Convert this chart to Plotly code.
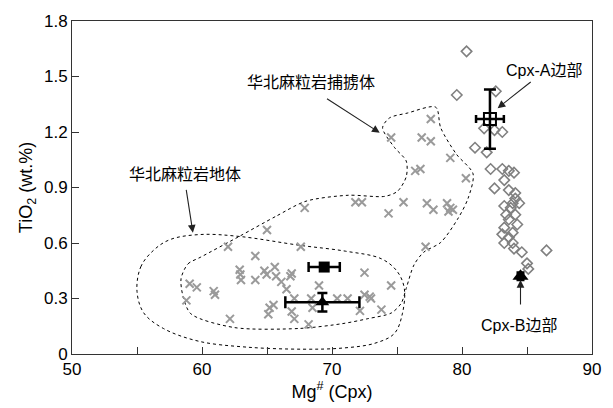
import plotly.graph_objects as go

# gray crosses: granulite terrain / xenolith Cpx
cross_x = [67.9, 71.8, 72.3, 65.0, 62.0, 67.6, 64.1, 62.9, 62.95, 63.0, 64.1, 64.8, 64.97, 65.6, 65.7,
           66.1, 66.9, 66.8, 66.5, 69.0, 68.4, 67.1, 68.5, 65.2, 65.5, 65.1, 66.9, 67.1, 68.2, 62.15,
           59.05, 59.6, 60.9, 61.0, 58.8, 70.4, 71.2, 72.5, 72.5, 72.9, 73.8, 72.15, 73.0,
           77.6, 74.55, 76.9, 77.6, 79.1, 76.4, 76.8, 80.3, 75.5, 74.35, 77.3, 77.8, 78.85, 79.1,
           79.3, 78.96, 77.2, 74.55]
cross_y = [0.79, 0.82, 0.82, 0.67, 0.58, 0.58, 0.53, 0.455, 0.43, 0.40, 0.40, 0.45, 0.43, 0.47, 0.42,
           0.39, 0.435, 0.42, 0.35, 0.37, 0.30, 0.30, 0.25, 0.25, 0.265, 0.215, 0.23, 0.19, 0.16, 0.19,
           0.38, 0.36, 0.34, 0.32, 0.29, 0.30, 0.30, 0.44, 0.32, 0.31, 0.24, 0.233, 0.30,
           1.27, 1.17, 1.17, 1.15, 1.06, 0.99, 1.00, 0.95, 0.82, 0.76, 0.815, 0.78, 0.815, 0.79,
           0.78, 0.77, 0.58, 0.37]

# open diamonds: this study Cpx
dia_x = [80.35, 79.6, 82.6, 81.7, 82.5, 83.1, 81.0, 81.9, 82.2, 83.1, 83.6, 84.0, 83.25, 82.5, 83.6,
         84.1, 84.1, 83.9, 83.25, 83.75, 84.4, 83.4, 84.1, 83.6, 84.25, 83.25, 83.1, 83.9, 83.6,
         83.25, 83.9, 84.0, 84.6, 86.5, 85.0, 85.1]
dia_y = [1.636, 1.40, 1.42, 1.22, 1.21, 1.20, 1.115, 1.09, 1.0, 1.0, 0.99, 0.98, 0.94, 0.895, 0.886,
         0.87, 0.84, 0.815, 0.80, 0.79, 0.815, 0.753, 0.753, 0.727, 0.70, 0.683, 0.647, 0.656, 0.63,
         0.60, 0.60, 0.57, 0.55, 0.56, 0.49, 0.46]

# field outlines
terrain_x = [55.0, 55.29, 56.28, 57.56, 59.91, 62.93, 67.47, 71.02, 73.82, 75.03, 75.56, 75.41, 74.80,
             73.29, 70.79, 67.77, 63.46, 59.75, 57.03, 55.52, 55.0]
terrain_y = [0.339, 0.471, 0.561, 0.619, 0.646, 0.635, 0.588, 0.556, 0.514, 0.445, 0.355, 0.217, 0.111,
             0.058, 0.032, 0.026, 0.037, 0.069, 0.138, 0.222, 0.339]
xeno_x = [58.39, 58.92, 59.91, 62.85, 65.73, 68.0, 71.25, 74.05, 75.03, 75.71, 75.71, 74.80, 73.89,
          74.42, 75.78, 77.98, 78.36, 79.57, 80.85, 80.47, 79.72, 78.36, 77.07, 76.31, 75.71, 75.33,
          74.57, 72.76, 70.79, 67.47, 62.48, 59.15, 58.54, 58.39]
xeno_y = [0.408, 0.487, 0.524, 0.635, 0.746, 0.826, 0.858, 0.852, 0.879, 0.958, 1.043, 1.117, 1.223,
          1.276, 1.302, 1.334, 1.223, 1.080, 0.974, 0.842, 0.736, 0.603, 0.551, 0.482, 0.355, 0.275,
          0.222, 0.191, 0.164, 0.138, 0.143, 0.217, 0.312, 0.408]

# mean values with error bars
sq_x, sq_y, sq_ex = [69.4], [0.47], [1.2]
tri_x, tri_y, tri_ex, tri_ey = [69.26], [0.28], [2.85], [0.05]
cpxA_x, cpxA_y, cpxA_ex, cpxA_ey = [82.15], [1.27], [1.07], [0.16]
cpxB_x, cpxB_y, cpxB_ex, cpxB_ey = [84.5], [0.42], [0.2], [0.02]

x_ticks = [50, 60, 70, 80, 90]
y_ticks = [0, 0.3, 0.6, 0.9, 1.2, 1.5, 1.8]
y_labels = ["0", "0.3", "0.6", "0.9", "1.2", "1.5", "1.8"]

FONT = "Liberation Sans, Arial, Noto Sans CJK SC, sans-serif"

fig = go.Figure()
fig.add_trace(go.Scatter(x=terrain_x, y=terrain_y, mode="lines", line=dict(color="black", width=1, dash="dot", shape="spline", smoothing=1.0), hoverinfo="skip"))
fig.add_trace(go.Scatter(x=xeno_x, y=xeno_y, mode="lines", line=dict(color="black", width=1, dash="dot", shape="spline", smoothing=0.8), hoverinfo="skip"))
fig.add_trace(go.Scatter(x=cross_x, y=cross_y, mode="markers",
                         marker=dict(symbol="x-thin", size=8, line=dict(color="#9a9a9a", width=2))))
fig.add_trace(go.Scatter(x=dia_x, y=dia_y, mode="markers",
                         marker=dict(symbol="diamond-open", size=8, color="#808080", line=dict(color="#808080", width=1.6))))
eb = dict(color="black", thickness=2.5)
fig.add_trace(go.Scatter(x=sq_x, y=sq_y, mode="markers",
                         marker=dict(symbol="square", size=11, color="black"),
                         error_x=dict(type="data", array=sq_ex, width=5, **eb)))
fig.add_trace(go.Scatter(x=tri_x, y=tri_y, mode="markers",
                         marker=dict(symbol="triangle-up", size=12, color="black"),
                         error_x=dict(type="data", array=tri_ex, width=6, **eb),
                         error_y=dict(type="data", array=tri_ey, width=5, **eb)))
fig.add_trace(go.Scatter(x=cpxA_x, y=cpxA_y, mode="markers",
                         marker=dict(symbol="square-open", size=12, color="black", line=dict(width=2)),
                         error_x=dict(type="data", array=cpxA_ex, width=4, **eb),
                         error_y=dict(type="data", array=cpxA_ey, width=6, **eb)))
fig.add_trace(go.Scatter(x=cpxB_x, y=cpxB_y, mode="markers",
                         marker=dict(symbol="triangle-up", size=14, color="black"),
                         error_x=dict(type="data", array=cpxB_ex, width=3, **eb),
                         error_y=dict(type="data", array=cpxB_ey, width=4, **eb)))

ann_font = dict(family=FONT, size=16, color="black")
anns = [
    dict(text="华北麻粒岩捕掳体", x=68.37, y=1.466, ax=69.5, ay=1.385, tipx=73.67, tipy=1.196),
    dict(text="华北麻粒岩地体", x=58.7, y=0.969, ax=58.77, ay=0.895, tipx=59.3, tipy=0.656),
    dict(text="Cpx-A边部", x=86.3, y=1.535, ax=85.4, ay=1.477, tipx=82.74, tipy=1.329),
    dict(text="Cpx-B边部", x=84.4, y=0.154, ax=84.5, ay=0.26, tipx=84.5, tipy=0.40),
]
for a in anns:
    fig.add_annotation(x=a["x"], y=a["y"], text=a["text"], showarrow=False, font=ann_font)
    fig.add_annotation(x=a["tipx"], y=a["tipy"], ax=a["ax"], ay=a["ay"], axref="x", ayref="y",
                       text="", showarrow=True, arrowhead=2, arrowsize=1.4, arrowwidth=1.1, arrowcolor="#222")

axis_common = dict(showline=True, linecolor="#333", linewidth=1, mirror=True, showgrid=False, zeroline=False,
                   ticks="inside", ticklen=7, tickcolor="#333", tickfont=dict(family=FONT, size=17, color="black"))
fig.update_xaxes(range=[50, 90], tickvals=x_ticks, ticktext=[str(v) for v in x_ticks],
                 minor=dict(tickvals=[55, 65, 75, 85], ticks="inside", ticklen=7, tickcolor="#333"),
                 title=dict(text="Mg<sup>#</sup> (Cpx)", font=dict(family=FONT, size=18, color="black"), standoff=4),
                 **axis_common)
fig.update_yaxes(range=[0, 1.8], tickvals=y_ticks, ticktext=y_labels,
                 title=dict(text="TiO<sub>2</sub> (wt.%)", font=dict(family=FONT, size=18, color="black"), standoff=6),
                 **axis_common)
fig.update_layout(width=613, height=408, margin=dict(l=72, r=12, t=14, b=54),
                  plot_bgcolor="white", paper_bgcolor="white", showlegend=False)
fig.write_html("out.html")
